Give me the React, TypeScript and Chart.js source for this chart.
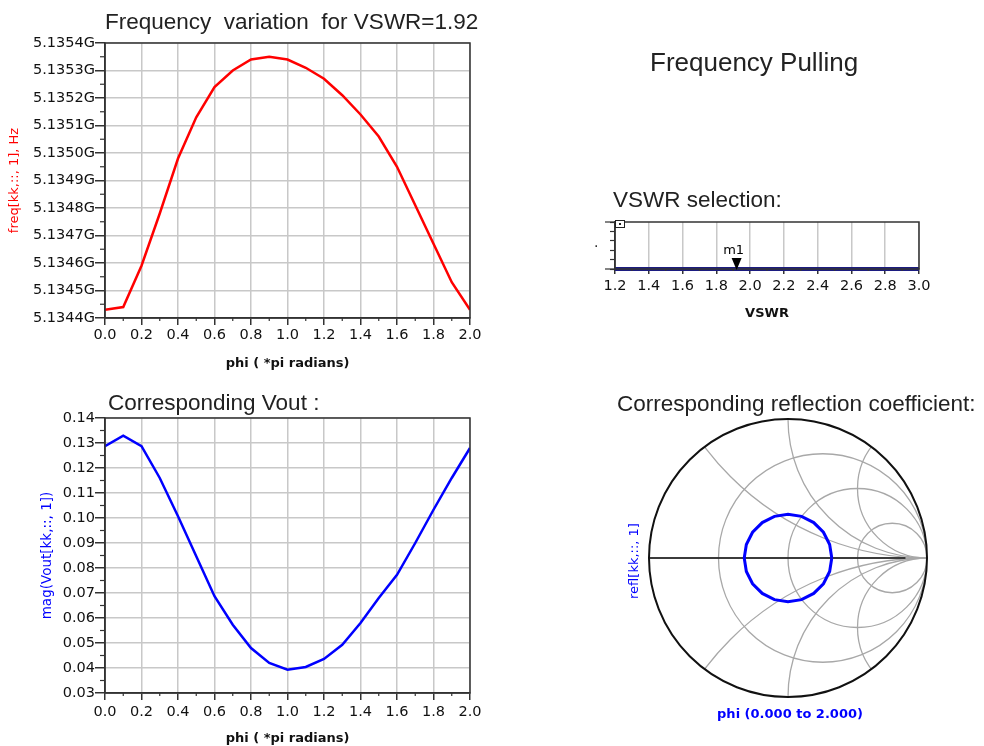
import React, { useEffect, useRef } from 'react';
import { Chart, registerables } from 'chart.js';

Chart.register(...registerables);

// ---------------- data ----------------
const phi = [0.0, 0.1, 0.2, 0.3, 0.4, 0.5, 0.6, 0.7, 0.8, 0.9, 1.0, 1.1, 1.2, 1.3, 1.4, 1.5, 1.6, 1.7, 1.8, 1.9, 2.0];
const freqGHz = [5.13443, 5.13444, 5.13459, 5.13478, 5.13498, 5.13513, 5.13524, 5.1353, 5.13534, 5.13535, 5.13534, 5.13531, 5.13527, 5.13521, 5.13514, 5.13506, 5.13495, 5.13481, 5.13467, 5.13453, 5.13443];
const voutMag = [0.1287, 0.1329, 0.1287, 0.116, 0.1007, 0.0847, 0.0687, 0.0573, 0.048, 0.042, 0.0393, 0.0404, 0.0436, 0.0493, 0.058, 0.068, 0.0773, 0.09, 0.1033, 0.116, 0.128];
const reflMag = [0.315, 0.315, 0.315, 0.315, 0.315, 0.315, 0.315, 0.315, 0.315, 0.315, 0.315, 0.315, 0.315, 0.315, 0.315, 0.315, 0.315, 0.315, 0.315, 0.315, 0.315];
const vswrAxis = [1.2, 1.4, 1.6, 1.8, 2.0, 2.2, 2.4, 2.6, 2.8, 3.0];
const vswrTrace = [0, 0, 0, 0, 0, 0, 0, 0, 0, 0];
const markerVSWR = 1.92;
const markerName = 'm1';
const smithResistance = [1 / 3, 1, 3];
const smithReactance = [0.5, 1, 2];

// ---------------- styles ----------------
const TICK_FONT = { family: 'DejaVu Sans', size: 14.5 };
const TITLE_FONT = '22.5px "Liberation Sans"';
const AXIS_COLOR = '#333333';
const GRID_COLOR = '#c8c8c8';

type TextItem = { text: string; x: number; y: number; font: string; color?: string; align?: CanvasTextAlign; rot?: number };

const textPlugin = (items: TextItem[]) => ({
  id: 'texts',
  afterDraw(chart: any) {
    const ctx = chart.ctx as CanvasRenderingContext2D;
    for (const t of items) {
      ctx.save();
      ctx.font = t.font;
      ctx.fillStyle = t.color || '#222222';
      ctx.textAlign = t.align || 'left';
      ctx.textBaseline = 'middle';
      ctx.translate(t.x, t.y);
      if (t.rot) ctx.rotate(t.rot);
      ctx.fillText(t.text, 0, 0);
      ctx.restore();
    }
  },
});

const framePlugin = (o: { xMinor?: number; yMinor?: number; yEnds?: number }) => ({
  id: 'frame',
  afterDraw(chart: any) {
    const ctx = chart.ctx as CanvasRenderingContext2D;
    const a = chart.chartArea;
    ctx.save();
    ctx.strokeStyle = AXIS_COLOR;
    ctx.lineWidth = 1.5;
    ctx.strokeRect(a.left, a.top, a.right - a.left, a.bottom - a.top);
    ctx.lineWidth = 1.2;
    const xs = chart.scales.x;
    const ys = chart.scales.y;
    if (o.xMinor) {
      for (let i = 0; i < xs.ticks.length - 1; i++) {
        const v = (xs.ticks[i].value + xs.ticks[i + 1].value) / 2;
        const px = xs.getPixelForValue(v);
        ctx.beginPath();
        ctx.moveTo(px, a.bottom);
        ctx.lineTo(px, a.bottom + o.xMinor);
        ctx.stroke();
      }
    }
    if (o.yMinor) {
      for (let i = 0; i < ys.ticks.length - 1; i++) {
        const v = (ys.ticks[i].value + ys.ticks[i + 1].value) / 2;
        const py = ys.getPixelForValue(v);
        ctx.beginPath();
        ctx.moveTo(a.left - o.yMinor, py);
        ctx.lineTo(a.left, py);
        ctx.stroke();
      }
    }
    if (o.yEnds) {
      for (const py of [a.top, a.bottom]) {
        ctx.beginPath();
        ctx.moveTo(a.left - o.yEnds, py);
        ctx.lineTo(a.left, py);
        ctx.stroke();
      }
    }
    ctx.restore();
  },
});

function xyScale(opts: any) {
  const { min, max, step, fmt, title, titleColor, titleFont, titlePad, size, tickLen, tickPad, horizontal } = opts;
  return {
    type: 'linear',
    position: horizontal ? 'bottom' : 'left',
    min,
    max,
    ticks: {
      stepSize: step,
      autoSkip: false,
      maxRotation: 0,
      padding: tickPad,
      color: '#111111',
      font: TICK_FONT,
      callback: (v: number) => fmt(v),
    },
    grid: { color: GRID_COLOR, lineWidth: 1.5, tickColor: AXIS_COLOR, tickLength: tickLen, tickWidth: 1.5 },
    border: { color: AXIS_COLOR, width: 1.5 },
    title: { display: !!title, text: title, color: titleColor, font: titleFont, padding: titlePad },
    afterFit: (s: any) => {
      if (horizontal) s.height = size;
      else s.width = size;
    },
  };
}

const baseOptions = {
  animation: false,
  responsive: false,
  devicePixelRatio: 1,
  plugins: { legend: { display: false }, tooltip: { enabled: false }, title: { display: false } },
};

const XTITLE_FONT = { family: 'DejaVu Sans', size: 13, weight: 'bold' };
const YTITLE_FONT = { family: 'DejaVu Sans', size: 13 };

function freqConfig(): any {
  return {
    type: 'scatter',
    data: {
      datasets: [{ data: phi.map((p, i) => ({ x: p, y: freqGHz[i] })), showLine: true, borderColor: '#ff0000', borderWidth: 2.5, pointRadius: 0 }],
    },
    options: {
      ...baseOptions,
      layout: { padding: { left: 0, right: 22, top: 43, bottom: 0 } },
      scales: {
        x: xyScale({ horizontal: true, min: 0, max: 2, step: 0.2, fmt: (v: number) => v.toFixed(1), title: 'phi ( *pi radians)', titleColor: '#111', titleFont: XTITLE_FONT, titlePad: { top: 0, bottom: 9 }, size: 62, tickLen: 7, tickPad: 2 }),
        y: xyScale({ min: 5.1344, max: 5.1354, step: 0.0001, fmt: (v: number) => v.toFixed(4) + 'G', title: 'freq[kk,::, 1], Hz', titleColor: '#ff0000', titleFont: YTITLE_FONT, titlePad: { top: 7, bottom: 0 }, size: 105, tickLen: 10, tickPad: 0 }),
      },
    },
    plugins: [framePlugin({ xMinor: 3, yMinor: 5 }), textPlugin([{ text: 'Frequency  variation  for VSWR=1.92', x: 105, y: 23, font: TITLE_FONT }])],
  };
}

function voutConfig(): any {
  return {
    type: 'scatter',
    data: {
      datasets: [{ data: phi.map((p, i) => ({ x: p, y: voutMag[i] })), showLine: true, borderColor: '#0000ff', borderWidth: 2.5, pointRadius: 0 }],
    },
    options: {
      ...baseOptions,
      layout: { padding: { left: 0, right: 22, top: 38, bottom: 0 } },
      scales: {
        x: xyScale({ horizontal: true, min: 0, max: 2, step: 0.2, fmt: (v: number) => v.toFixed(1), title: 'phi ( *pi radians)', titleColor: '#111', titleFont: XTITLE_FONT, titlePad: { top: 0, bottom: 0 }, size: 53, tickLen: 7, tickPad: 4 }),
        y: xyScale({ min: 0.03, max: 0.14, step: 0.01, fmt: (v: number) => v.toFixed(2), title: 'mag(Vout[kk,::, 1])', titleColor: '#0000ff', titleFont: { family: 'DejaVu Sans', size: 13.5 }, titlePad: { top: 39, bottom: 0 }, size: 105, tickLen: 10, tickPad: 0 }),
      },
    },
    plugins: [framePlugin({ xMinor: 3, yMinor: 5 }), textPlugin([{ text: 'Corresponding Vout :', x: 108, y: 24, font: TITLE_FONT }])],
  };
}

const markerPlugin = {
  id: 'marker',
  afterDraw(chart: any) {
    const ctx = chart.ctx as CanvasRenderingContext2D;
    const a = chart.chartArea;
    const px = chart.scales.x.getPixelForValue(markerVSWR);
    const py = chart.scales.y.getPixelForValue(0);
    ctx.save();
    ctx.fillStyle = '#000';
    ctx.beginPath();
    ctx.moveTo(px - 5, py - 11);
    ctx.lineTo(px + 5, py - 11);
    ctx.lineTo(px, py + 1);
    ctx.closePath();
    ctx.fill();
    ctx.font = '13px "DejaVu Sans"';
    ctx.textAlign = 'center';
    ctx.textBaseline = 'middle';
    ctx.fillText(markerName, px - 3, py - 18);
    // small legend box at top-left corner
    ctx.fillStyle = '#fff';
    ctx.strokeStyle = '#222';
    ctx.lineWidth = 1;
    ctx.fillRect(a.left, a.top - 2, 10, 7);
    ctx.strokeRect(a.left + 0.5, a.top - 1.5, 9, 7);
    ctx.fillStyle = '#222';
    ctx.fillRect(a.left + 4, a.top + 1, 2, 2);
    ctx.restore();
  },
};

function vswrConfig(): any {
  return {
    type: 'scatter',
    data: {
      datasets: [{ data: vswrAxis.map((v, i) => ({ x: v, y: vswrTrace[i] })), showLine: true, borderColor: '#1c1c80', borderWidth: 4, pointRadius: 0, clip: 4 }],
    },
    options: {
      ...baseOptions,
      layout: { padding: { left: 0, right: 65, top: 192, bottom: 0 } },
      scales: {
        x: xyScale({ horizontal: true, min: 1.2, max: 3.0, step: 0.2, fmt: (v: number) => v.toFixed(1), title: 'VSWR', titleColor: '#111', titleFont: { family: 'DejaVu Sans', size: 13, weight: 'bold' }, titlePad: { top: 0, bottom: 9 }, size: 61, tickLen: 5, tickPad: 4 }),
        y: {
          type: 'linear',
          min: 0,
          max: 1,
          ticks: { stepSize: 0.2, display: false },
          grid: { drawOnChartArea: false, tickColor: AXIS_COLOR, tickLength: 5, tickWidth: 1.2 },
          border: { color: AXIS_COLOR, width: 1.5 },
          afterFit: (s: any) => {
            s.width = 55;
          },
        },
      },
    },
    plugins: [
      framePlugin({ xMinor: 2, yEnds: 10 }),
      markerPlugin,
      textPlugin([
        { text: 'Frequency Pulling', x: 90, y: 34, font: '26px "Liberation Sans"' },
        { text: 'VSWR selection:', x: 53, y: 171, font: TITLE_FONT },
        { text: '.', x: 34, y: 213, font: '14px "DejaVu Sans"' },
      ]),
    ],
  };
}

const smithPlugin = {
  id: 'smithGrid',
  beforeDatasetsDraw(chart: any) {
    const ctx = chart.ctx as CanvasRenderingContext2D;
    const xs = chart.scales.x;
    const ys = chart.scales.y;
    const cx = xs.getPixelForValue(0);
    const cy = ys.getPixelForValue(0);
    const R = xs.getPixelForValue(1) - cx;
    ctx.save();
    ctx.beginPath();
    ctx.arc(cx, cy, R, 0, Math.PI * 2);
    ctx.clip();
    ctx.strokeStyle = '#a8a8a8';
    ctx.lineWidth = 1.3;
    for (const r of smithResistance) {
      ctx.beginPath();
      ctx.arc(xs.getPixelForValue(r / (1 + r)), cy, R / (1 + r), 0, Math.PI * 2);
      ctx.stroke();
    }
    for (const xv of smithReactance) {
      for (const s of [1, -1]) {
        ctx.beginPath();
        ctx.arc(xs.getPixelForValue(1), ys.getPixelForValue(s / xv), R / xv, 0, Math.PI * 2);
        ctx.stroke();
      }
    }
    ctx.beginPath();
    ctx.moveTo(cx - R, cy);
    ctx.lineTo(cx + R, cy);
    ctx.stroke();
    ctx.restore();
    ctx.save();
    ctx.strokeStyle = '#111';
    ctx.lineWidth = 1.5;
    ctx.beginPath();
    ctx.moveTo(xs.getPixelForValue(-1), cy);
    ctx.lineTo(xs.getPixelForValue(0.845), cy);
    ctx.stroke();
    ctx.lineWidth = 2;
    ctx.beginPath();
    ctx.arc(cx, cy, R, 0, Math.PI * 2);
    ctx.stroke();
    ctx.restore();
  },
};

function smithConfig(): any {
  return {
    type: 'scatter',
    data: {
      datasets: [
        {
          data: phi.map((p, i) => ({ x: reflMag[i] * Math.cos(p * Math.PI), y: reflMag[i] * Math.sin(p * Math.PI) })),
          showLine: true,
          borderColor: '#0000ff',
          borderWidth: 3,
          pointRadius: 0,
        },
      ],
    },
    options: {
      ...baseOptions,
      layout: { padding: { left: 49, right: 57, top: 39, bottom: 49 } },
      scales: {
        x: { type: 'linear', min: -1, max: 1, display: false },
        y: { type: 'linear', min: -1, max: 1, display: false },
      },
    },
    plugins: [
      smithPlugin,
      textPlugin([
        { text: 'Corresponding reflection coefficient:', x: 17, y: 25, font: TITLE_FONT },
        { text: 'refl[kk,::, 1]', x: 35, y: 181, font: '13px "DejaVu Sans"', color: '#0000ff', align: 'center', rot: -Math.PI / 2 },
        { text: 'phi (0.000 to 2.000)', x: 190, y: 335, font: 'bold 13px "DejaVu Sans"', color: '#0000ff', align: 'center' },
      ]),
    ],
  };
}

function ChartBox({ left, top, width, height, make }: { left: number; top: number; width: number; height: number; make: () => any }) {
  const ref = useRef<HTMLCanvasElement>(null);
  useEffect(() => {
    const chart = new Chart(ref.current as HTMLCanvasElement, make());
    return () => chart.destroy();
  }, []);
  return <canvas ref={ref} width={width} height={height} style={{ position: 'absolute', left, top, width, height }} />;
}

export default function App() {
  return (
    <div style={{ position: 'fixed', left: 0, top: 0, width: 984, height: 746, background: '#ffffff', overflow: 'hidden' }}>
      <ChartBox left={0} top={0} width={492} height={380} make={freqConfig} />
      <ChartBox left={0} top={380} width={492} height={366} make={voutConfig} />
      <ChartBox left={560} top={30} width={424} height={300} make={vswrConfig} />
      <ChartBox left={600} top={380} width={384} height={366} make={smithConfig} />
    </div>
  );
}
